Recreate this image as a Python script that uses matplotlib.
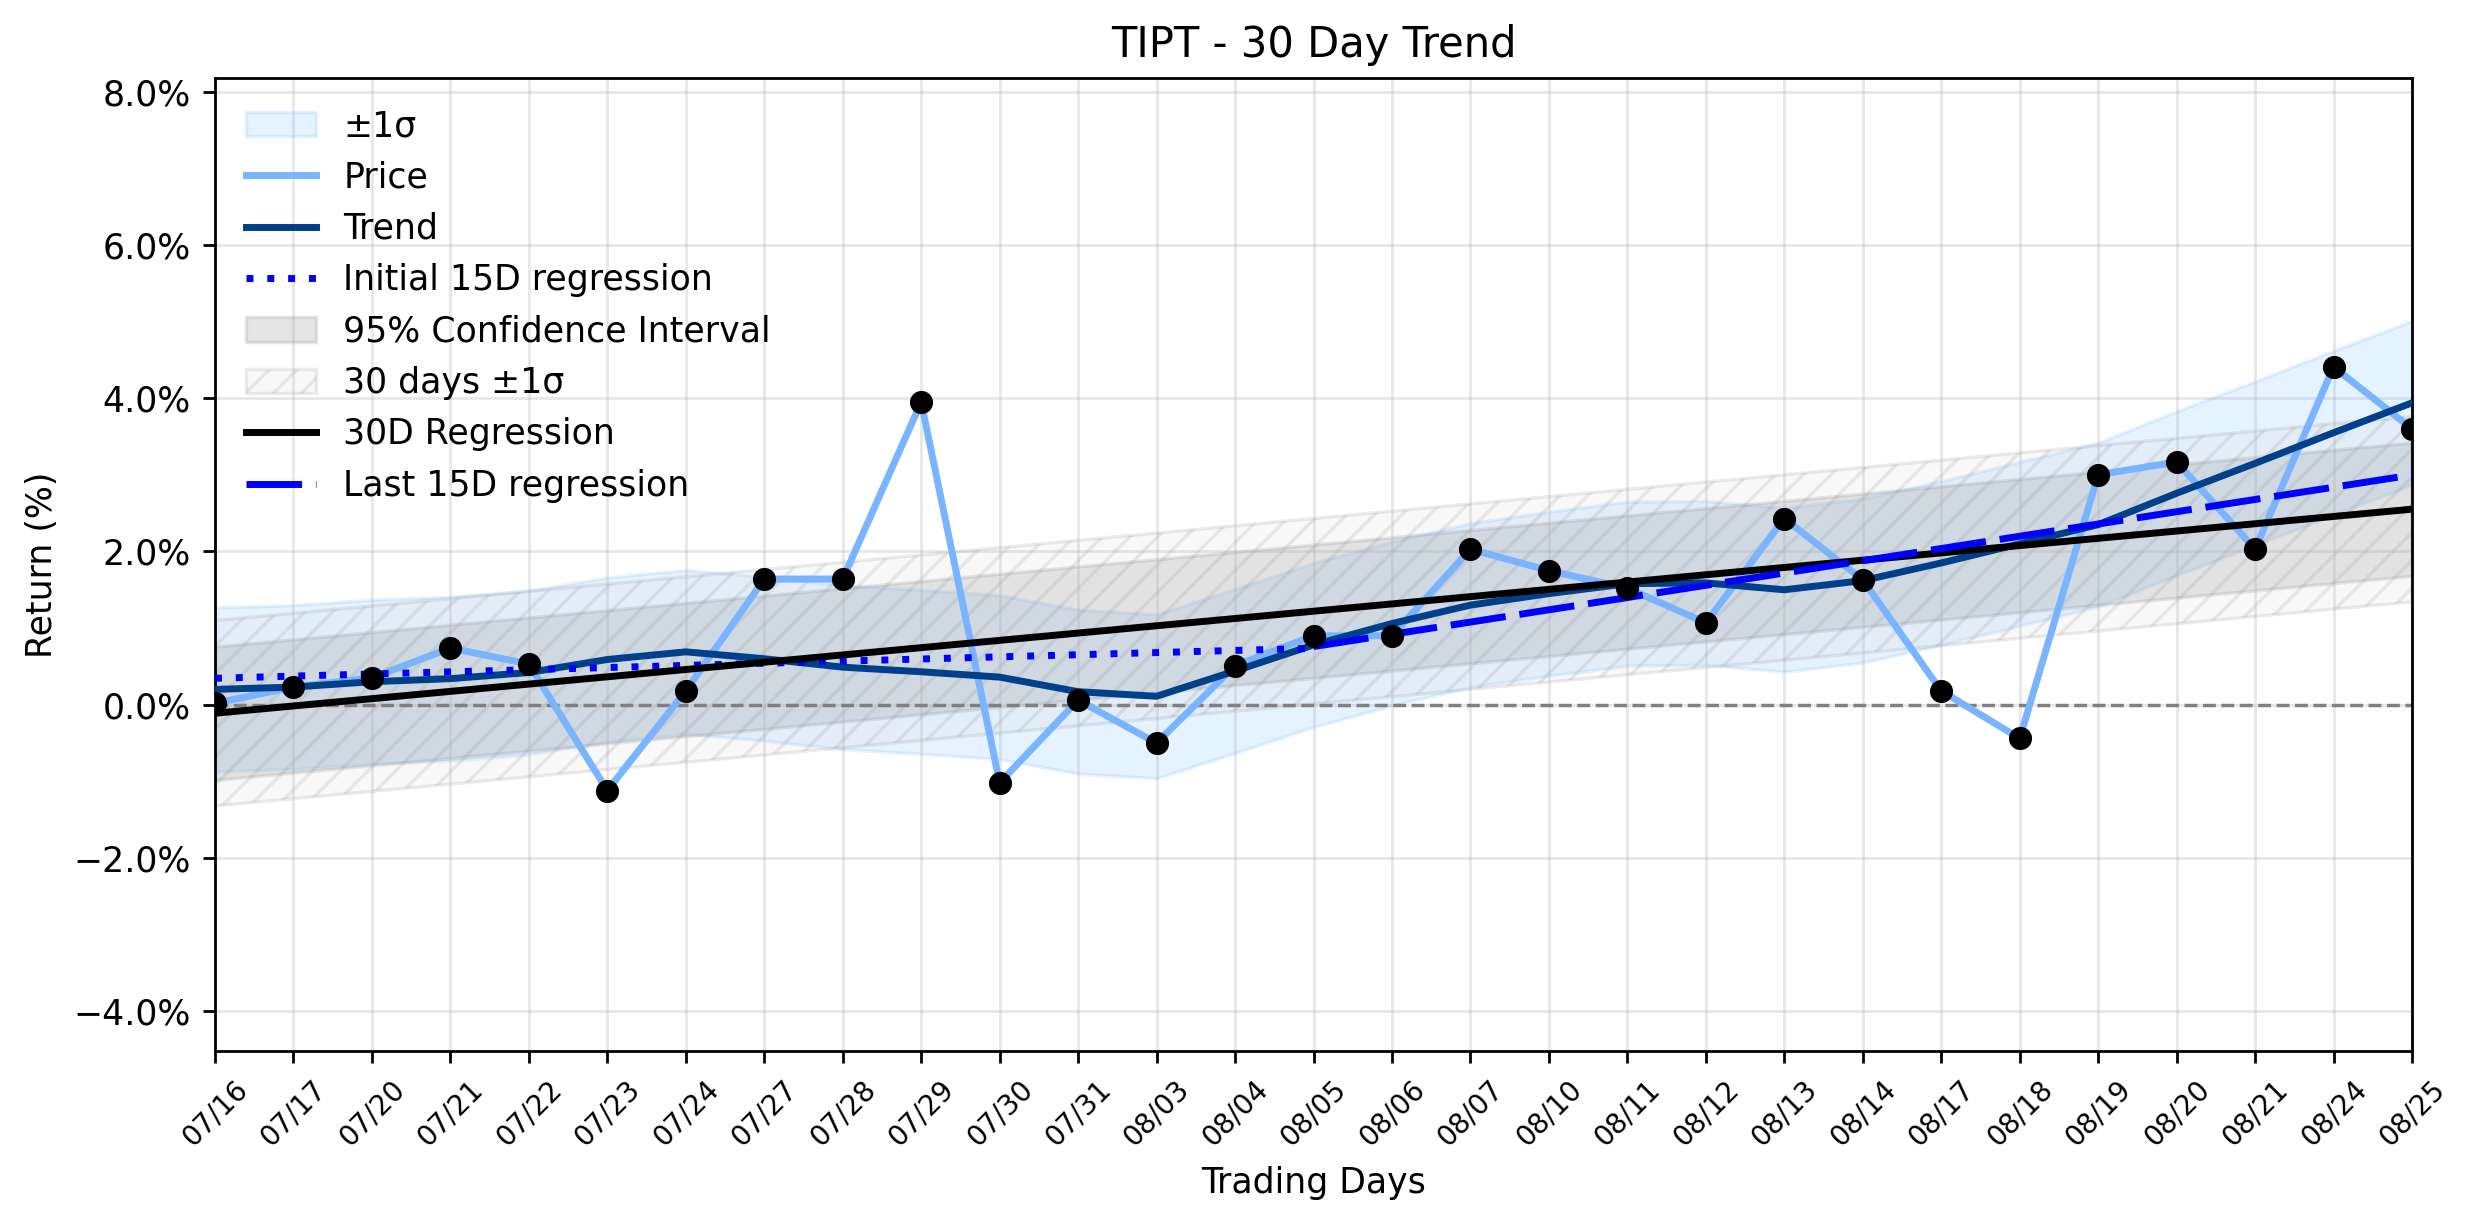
import numpy as np
import matplotlib
matplotlib.use("Agg")
import matplotlib.pyplot as plt
from matplotlib.ticker import FuncFormatter

# ---- data ----
dates = ["07/16", "07/17", "07/20", "07/21", "07/22", "07/23", "07/24", "07/27",
         "07/28", "07/29", "07/30", "07/31", "08/03", "08/04", "08/05", "08/06",
         "08/07", "08/10", "08/11", "08/12", "08/13", "08/14", "08/17", "08/18",
         "08/19", "08/20", "08/21", "08/24", "08/25"]

price = [0.02, 0.23, 0.35, 0.74, 0.53, -1.12, 0.18, 1.64, 1.64, 3.95,
         -1.02, 0.06, -0.50, 0.51, 0.90, 0.90, 2.03, 1.75, 1.52, 1.07,
         2.43, 1.63, 0.18, -0.44, 3.00, 3.17, 2.03, 4.41, 3.60]

trend = [0.20, 0.23, 0.30, 0.34, 0.42, 0.59, 0.69, 0.60, 0.49, 0.43,
         0.36, 0.17, 0.11, 0.44, 0.78, 1.06, 1.30, 1.45, 1.58, 1.59,
         1.50, 1.62, 1.85, 2.10, 2.35, 2.76, 3.15, 3.55, 3.94]

trend_sigma = 1.07      # half-width of the +-1 sigma band around the trend
ci_halfwidth = 0.87     # half-width of the 95% confidence band
resid_sigma = 1.21      # half-width of the 30 days +-1 sigma band

# ---- derived ----
x = np.arange(len(dates))
p = np.array(price)
t = np.array(trend)

c30 = np.polyfit(x, p, 1)
reg30 = np.polyval(c30, x)
xi = x[:15]
ci = np.polyfit(xi, p[:15], 1)
xl = x[14:]
cl = np.polyfit(xl, p[14:], 1)

fig = plt.figure(figsize=(2474 / 250, 1224 / 250), dpi=250)
ax = fig.add_axes([215 / 2474, 1 - 1051 / 1224, (2412 - 215) / 2474, (1051 - 78) / 1224])

ax.fill_between(x, t - trend_sigma, t + trend_sigma, color="#66b2ff", alpha=0.17, label="±1σ")
ax.plot(x, p, color="#78b4ff", lw=2, label="Price", zorder=3)
ax.plot(x, t, color="#003f8a", lw=2, label="Trend", zorder=4)
ax.plot(xi, np.polyval(ci, xi), color="blue", lw=2, ls=(0, (1, 2)),
        label="Initial 15D regression", zorder=4)
ax.fill_between(x, reg30 - ci_halfwidth, reg30 + ci_halfwidth, color="gray", alpha=0.2,
                label="95% Confidence Interval")
ax.fill_between(x, reg30 - resid_sigma, reg30 + resid_sigma, facecolor="lightgray",
                edgecolor="gray", alpha=0.15, hatch="///", label="30 days ±1σ")
ax.plot(x, reg30, color="black", lw=2, label="30D Regression", zorder=4)
ax.plot(xl, np.polyval(cl, xl), color="blue", lw=2, ls=(0, (8, 2)),
        label="Last 15D regression", zorder=4)
ax.scatter(x, p, color="black", s=32, zorder=5)
ax.axhline(0, color="gray", lw=1, ls="--", zorder=2)

ax.set_xlim(0, len(dates) - 1)
ax.set_ylim(-4.52, 8.18)
ax.set_xticks(x)
ax.set_xticklabels(dates, rotation=45, fontsize=8)
ax.yaxis.set_major_formatter(FuncFormatter(lambda v, _: f"{v:.1f}%".replace("-", "\u2212")))
ax.grid(True, alpha=0.3)
ax.set_title("TIPT - 30 Day Trend", fontsize=12)
ax.set_xlabel("Trading Days", fontsize=10)
ax.set_ylabel("Return (%)", fontsize=10)
ax.legend(loc="upper left", frameon=False, fontsize=10)

fig.savefig("out.png", dpi=250)
